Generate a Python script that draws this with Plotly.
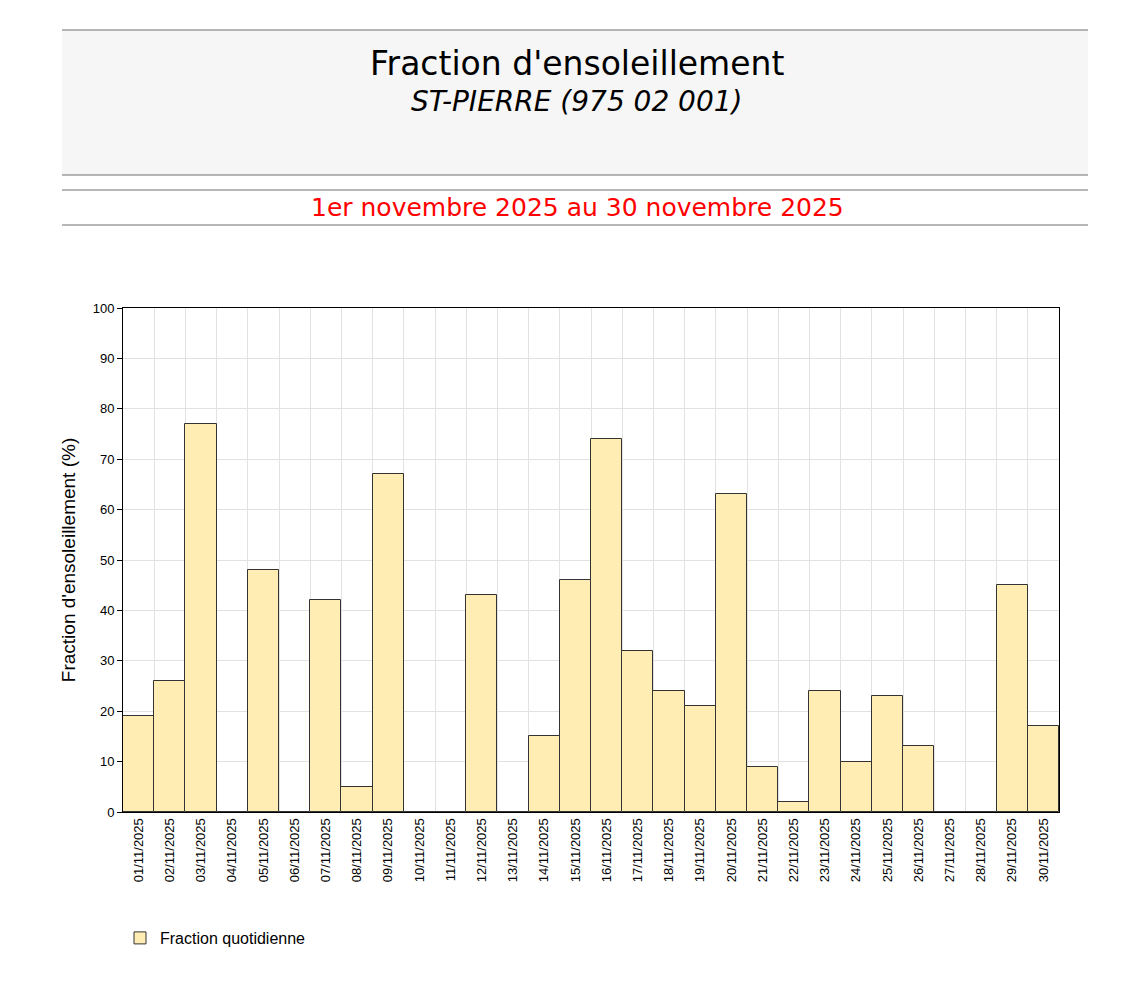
import plotly.graph_objects as go

OFF = 8  # browser body margin
W, H = 1144 - 2 * OFF, 996 - 2 * OFF
L, R, T, B = 123, 1059, 308, 812  # plot area in page pixels

jours = [f"{d:02d}/11/2025" for d in range(1, 31)]
fraction = [19, 26, 77, 0, 48, 0, 42, 5, 67, 0,
            0, 43, 0, 15, 46, 74, 32, 24, 21, 63,
            9, 2, 24, 10, 23, 13, 0, 0, 45, 17]
y_ticks = list(range(0, 101, 10))

titre = "Fraction d'ensoleillement"
station = "ST-PIERRE (975 02 001)"
periode = "1er novembre 2025 au 30 novembre 2025"
ytitre = "Fraction d'ensoleillement (%)"
legende = "Fraction quotidienne"


def px_x(x):
    return (x - L) / (R - L)


def px_y(y):
    return (B - y) / (B - T)


fig = go.Figure()
fig.add_trace(go.Bar(
    x=jours, y=fraction, name=legende,
    marker=dict(color="#FFEDB3", line=dict(color="#333333", width=1)),
    showlegend=True,
))

shapes = [
    dict(type="rect", xref="paper", yref="paper",
         x0=px_x(62), x1=px_x(1088), y0=px_y(175), y1=px_y(30),
         fillcolor="#F6F6F6", line=dict(width=0), layer="below"),
]
for yy in (30, 175, 190, 225):
    shapes.append(dict(type="line", xref="paper", yref="paper",
                       x0=px_x(62), x1=px_x(1088), y0=px_y(yy), y1=px_y(yy),
                       line=dict(color="#6E6E6E", width=1)))

annotations = [
    dict(text=titre, x=px_x(577), y=px_y(64), xref="paper", yref="paper",
         xanchor="center", yanchor="middle", showarrow=False,
         font=dict(family="DejaVu Sans", size=33, color="black")),
    dict(text=f"<i>{station}</i>", x=px_x(577), y=px_y(102), xref="paper", yref="paper",
         xanchor="center", yanchor="middle", showarrow=False,
         font=dict(family="DejaVu Sans", size=28, color="black")),
    dict(text=periode, x=px_x(577), y=px_y(207), xref="paper", yref="paper",
         xanchor="center", yanchor="middle", showarrow=False,
         font=dict(family="DejaVu Sans", size=25, color="red")),
]

fig.update_layout(
    width=W, height=H,
    margin=dict(l=L - OFF, r=(W + OFF) - R, t=T - OFF, b=(H + OFF) - B, pad=0),
    paper_bgcolor="white", plot_bgcolor="white",
    bargap=0,
    font=dict(family="Liberation Sans, Arial", size=13, color="black"),
    shapes=shapes,
    annotations=annotations,
    legend=dict(x=px_x(120), y=px_y(921), xanchor="left", yanchor="top",
                font=dict(size=16), bgcolor="rgba(0,0,0,0)"),
    xaxis=dict(
        type="category", tickangle=-90, tickson="boundaries",
        showgrid=True, gridcolor="#E2E2E2", gridwidth=1,
        showline=True, linecolor="black", linewidth=1, mirror=True,
        ticks="", tickfont=dict(size=13),
    ),
    yaxis=dict(
        range=[0, 100], tickvals=y_ticks, ticks="outside", ticklen=5,
        tickcolor="black",
        showgrid=True, gridcolor="#E2E2E2", gridwidth=1,
        showline=True, linecolor="black", linewidth=1, mirror=True,
        zeroline=False, tickfont=dict(size=13),
        title=dict(text=ytitre, font=dict(size=19), standoff=12),
    ),
)

fig.write_html("out.html")
